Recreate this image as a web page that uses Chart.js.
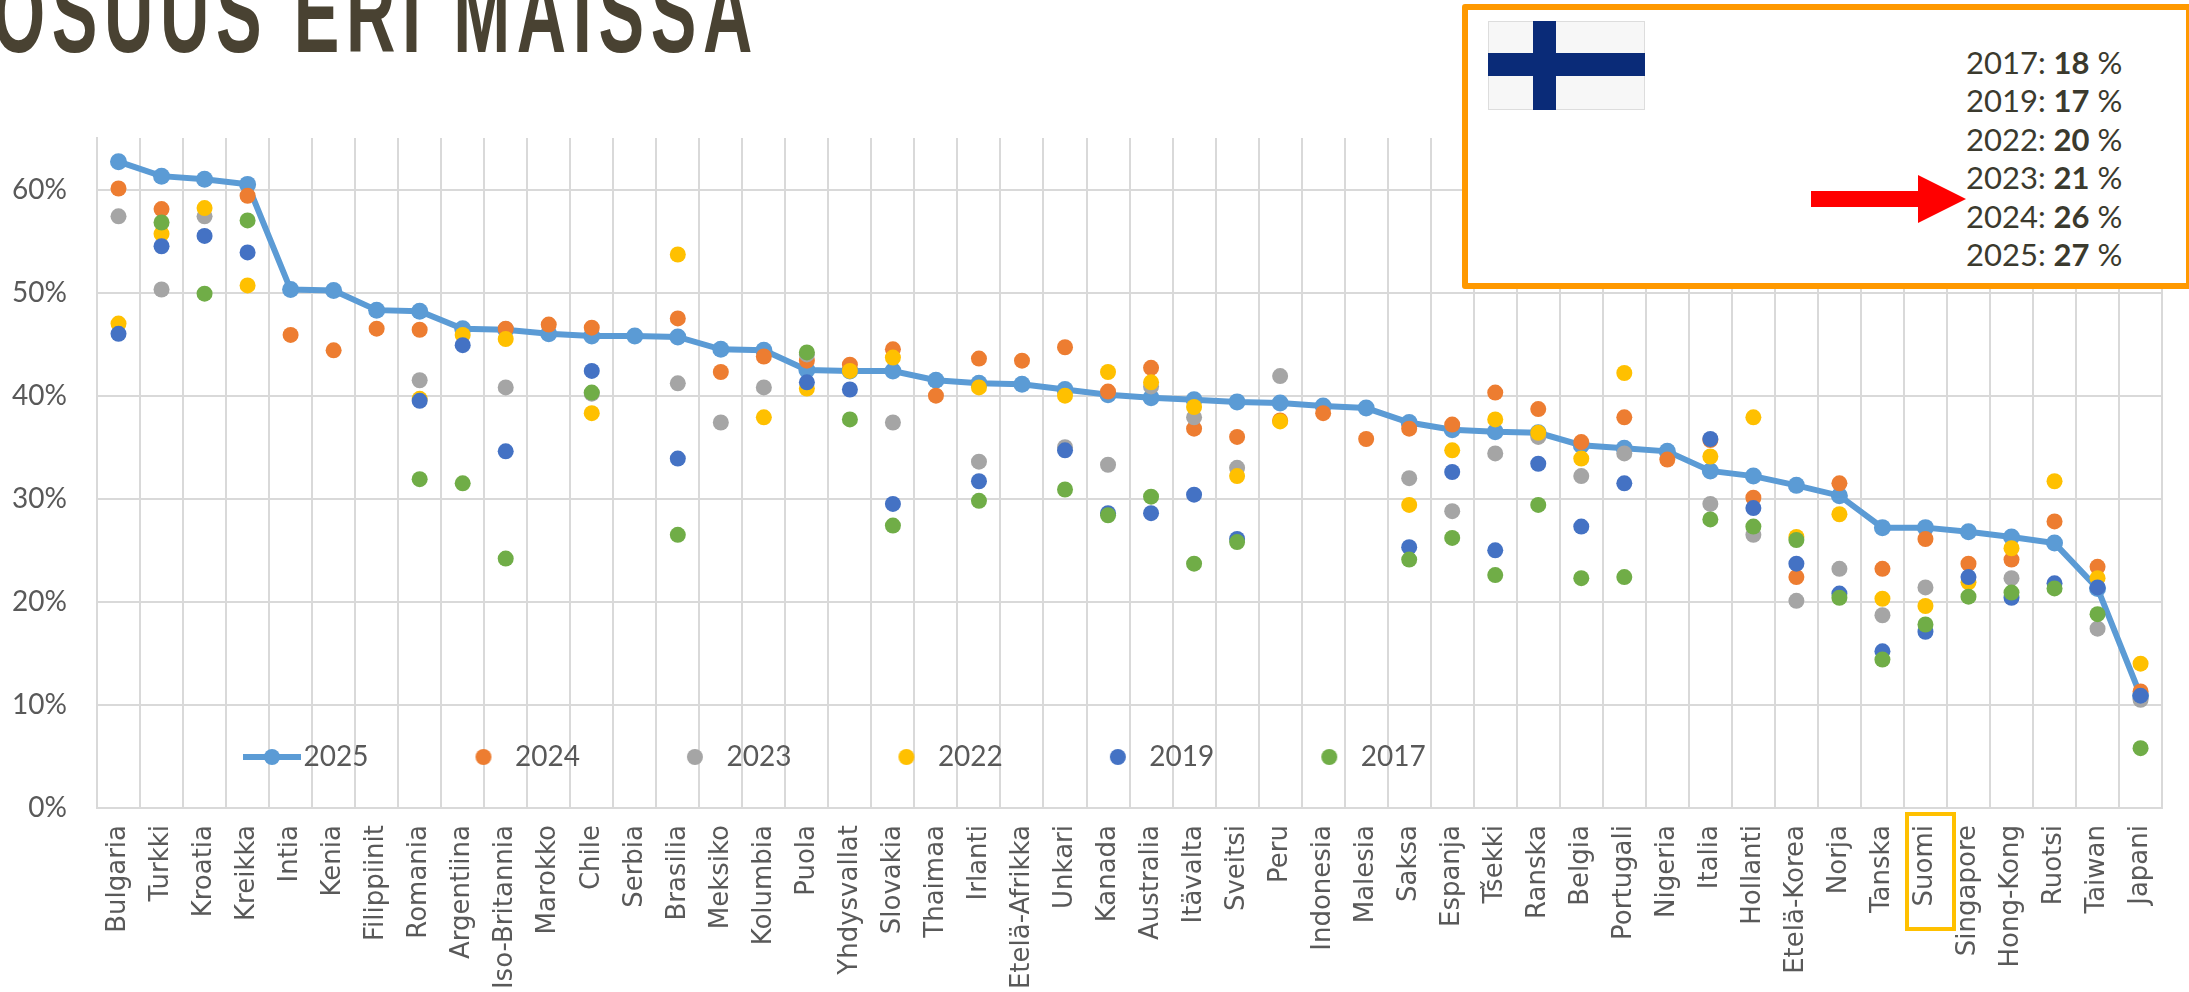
<!DOCTYPE html>
<html lang="fi"><head><meta charset="utf-8">
<script src="https://cdn.jsdelivr.net/npm/chart.js@4"></script>
<style>
html,body{margin:0;padding:0;background:#fff;width:2189px;height:992px;overflow:hidden}
#wrap{position:relative;width:2189px;height:992px;overflow:hidden}
canvas{position:absolute;left:0;top:0}
#title{position:absolute;left:-8px;top:-47px;font:700 114px/120px "Liberation Sans",sans-serif;color:#494232;letter-spacing:11px;white-space:nowrap;transform:scaleX(.6);transform-origin:0 0}
#box{position:absolute;left:1462px;top:4px;width:730px;height:285px;box-sizing:border-box;border:6px solid #FF9900;border-radius:3px;background:#fff}
#flag{position:absolute;left:1488px;top:21px;width:157px;height:89px;background:#F7F7F7;box-shadow:inset 0 0 0 1px #ddd}
#flag i{position:absolute;background:#0A2B78}
#flag .v{left:45px;top:0;width:23px;height:89px}
#flag .h{left:0;top:32px;width:157px;height:23px}
#arrow{position:absolute;left:1811px;top:175px}
#stats{position:absolute;left:1966px;top:43px;font:400 31px/38.4px "Lato",sans-serif;color:#3B3A2E;white-space:nowrap}
#stats b{font-weight:700}
#suomi{position:absolute;left:1905px;top:812px;width:51px;height:119px;box-sizing:border-box;border:4px solid #FFC000}
</style></head><body>
<div id="wrap">
<canvas id="c" width="2189" height="992"></canvas>
<div id="title">OSUUS ERI MAISSA</div>
<div id="box"></div>
<div id="flag"><i class="v"></i><i class="h"></i></div>
<svg id="arrow" width="156" height="49"><polygon points="0,16 107,16 107,0 155,24 107,48 107,32 0,32" fill="#FF0000"/></svg>
<div id="stats"></div>
<div id="suomi"></div>
</div>
<script>
const categories=["Bulgaria","Turkki","Kroatia","Kreikka","Intia","Kenia","Filippiinit","Romania","Argentiina","Iso-Britannia","Marokko","Chile","Serbia","Brasilia","Meksiko","Kolumbia","Puola","Yhdysvallat","Slovakia","Thaimaa","Irlanti","Etelä-Afrikka","Unkari","Kanada","Australia","Itävalta","Sveitsi","Peru","Indonesia","Malesia","Saksa","Espanja","Tšekki","Ranska","Belgia","Portugali","Nigeria","Italia","Hollanti","Etelä-Korea","Norja","Tanska","Suomi","Singapore","Hong-Kong","Ruotsi","Taiwan","Japani"];
const v2025=[62.7,61.3,61.0,60.5,50.3,50.2,48.3,48.2,46.5,46.4,46.0,45.8,45.8,45.7,44.5,44.4,42.5,42.4,42.4,41.5,41.2,41.1,40.6,40.1,39.8,39.6,39.4,39.3,39.0,38.8,37.4,36.7,36.5,36.4,35.2,34.9,34.6,32.7,32.2,31.3,30.3,27.2,27.2,26.8,26.3,25.7,21.3,10.9];
const v2024=[60.1,58.1,null,59.4,45.9,44.4,46.5,46.4,null,46.5,46.9,46.6,null,47.5,42.3,43.8,43.4,43.0,44.5,40.0,43.6,43.4,44.7,40.4,42.7,36.8,36.0,37.6,38.3,35.8,36.8,37.2,40.3,38.7,35.5,37.9,33.8,35.7,30.1,22.4,31.5,23.2,26.1,23.7,24.1,27.8,23.4,11.3];
const v2023=[57.4,50.3,57.4,null,null,null,null,41.5,null,40.8,null,40.2,null,41.2,37.4,40.8,44.0,null,37.4,null,33.6,null,35.0,33.3,40.9,37.9,33.0,41.9,null,null,32.0,28.8,34.4,36.0,32.2,34.4,null,29.5,26.5,20.1,23.2,18.7,21.4,null,22.3,null,17.4,10.5];
const v2022=[47.0,55.7,58.2,50.7,null,null,null,39.7,45.9,45.5,null,38.3,null,53.7,null,37.9,40.7,42.4,43.7,null,40.8,null,40.0,42.3,41.3,38.9,32.2,37.5,null,null,29.4,34.7,37.7,36.4,33.9,42.2,null,34.1,37.9,26.3,28.5,20.3,19.6,21.9,25.2,31.7,22.3,14.0];
const v2019=[46.0,54.5,55.5,53.9,null,null,null,39.5,44.9,34.6,null,42.4,null,33.9,null,null,41.3,40.6,29.5,null,31.7,null,34.7,28.6,28.6,30.4,26.1,null,null,null,25.3,32.6,25.0,33.4,27.3,31.5,null,35.8,29.1,23.7,20.8,15.2,17.1,22.4,20.4,21.8,21.4,10.9];
const v2017=[null,56.8,49.9,57.0,null,null,null,31.9,31.5,24.2,null,40.3,null,26.5,null,null,44.2,37.7,27.4,null,29.8,null,30.9,28.4,30.2,23.7,25.8,null,null,null,24.1,26.2,22.6,29.4,22.3,22.4,null,28.0,27.3,26.0,20.4,14.4,17.8,20.5,20.9,21.3,18.8,5.8];
const seriesNames=["2025","2024","2023","2022","2019","2017"];
const seriesColors=["#5B9BD5","#ED7D31","#A5A5A5","#FFC000","#4472C4","#70AD47"];
const seriesValues=[v2025,v2024,v2023,v2022,v2019,v2017];
const yTicks=[0,10,20,30,40,50,60];
const statYears=["2017","2019","2022","2023","2024","2025"];
const statValues=[18,17,20,21,26,27];

document.getElementById('stats').innerHTML=statYears.map((y,i)=>y+': <b>'+statValues[i]+'</b> %').join('<br>');

function icon(color,withLine){
  const cv=document.createElement('canvas');cv.width=withLine?58:18;cv.height=18;
  const g=cv.getContext('2d');g.fillStyle=color;
  if(withLine){g.fillRect(0,6,58,6);}
  g.beginPath();g.arc(cv.width/2,9,8,0,Math.PI*2);g.fill();
  return cv;
}
const icons=seriesNames.map((n,i)=>icon(seriesColors[i],i===0));
const legendPadding=97.5;
const moveLegend={id:'moveLegend',afterLayout(chart){
  const l=chart.legend;
  l.left=254.5-legendPadding;l.right=2189;l.width=2000;
  l.top=757-legendPadding-14;l.bottom=l.top+300;
}};
const textColor='#595959',gridColor='#D9D9D9';
new Chart(document.getElementById('c'),{
  type:'line',
  plugins:[moveLegend],
  data:{labels:categories,datasets:seriesNames.map((n,i)=>({
    label:n,data:seriesValues[i],order:5-i,
    borderColor:seriesColors[i],backgroundColor:seriesColors[i],
    pointBackgroundColor:seriesColors[i],pointBorderColor:seriesColors[i],
    borderWidth:i===0?6:0,showLine:i===0,tension:0,
    pointRadius:i===0?8.5:8,pointBorderWidth:0,pointStyle:'circle'
  }))},
  options:{
    responsive:false,animation:false,devicePixelRatio:1,
    layout:{padding:{top:138,right:22,left:0,bottom:0}},
    plugins:{
      tooltip:{enabled:false},
      legend:{display:true,position:'bottom',align:'start',maxHeight:1,
        labels:{usePointStyle:true,pointStyleWidth:35,padding:legendPadding,color:textColor,
          font:{family:'Lato',size:28},
          generateLabels(chart){
            const items=Chart.defaults.plugins.legend.labels.generateLabels(chart);
            items.forEach(it=>{it.pointStyle=icons[it.datasetIndex];});
            return items;
          },
          sort:(a,b)=>a.datasetIndex-b.datasetIndex}}
    },
    scales:{
      x:{type:'category',offset:true,
        grid:{color:gridColor,lineWidth:2,offset:true,drawTicks:false},
        border:{color:gridColor,width:2},
        afterFit(s){s.height=183;},
        ticks:{autoSkip:false,minRotation:90,maxRotation:90,padding:17,color:textColor,font:{family:'DejaVu Sans',size:26}}},
      y:{min:0,max:65,
        grid:{color:gridColor,lineWidth:2,drawTicks:false},
        border:{color:gridColor,width:2},
        afterFit(s){s.width=97;},
        afterBuildTicks(s){s.ticks=yTicks.map(v=>({value:v}));},
        ticks:{stepSize:10,includeBounds:false,padding:30,color:textColor,font:{family:'Lato',size:28},callback:v=>v+'%'}}
    }
  }
});
</script>
</body></html>
